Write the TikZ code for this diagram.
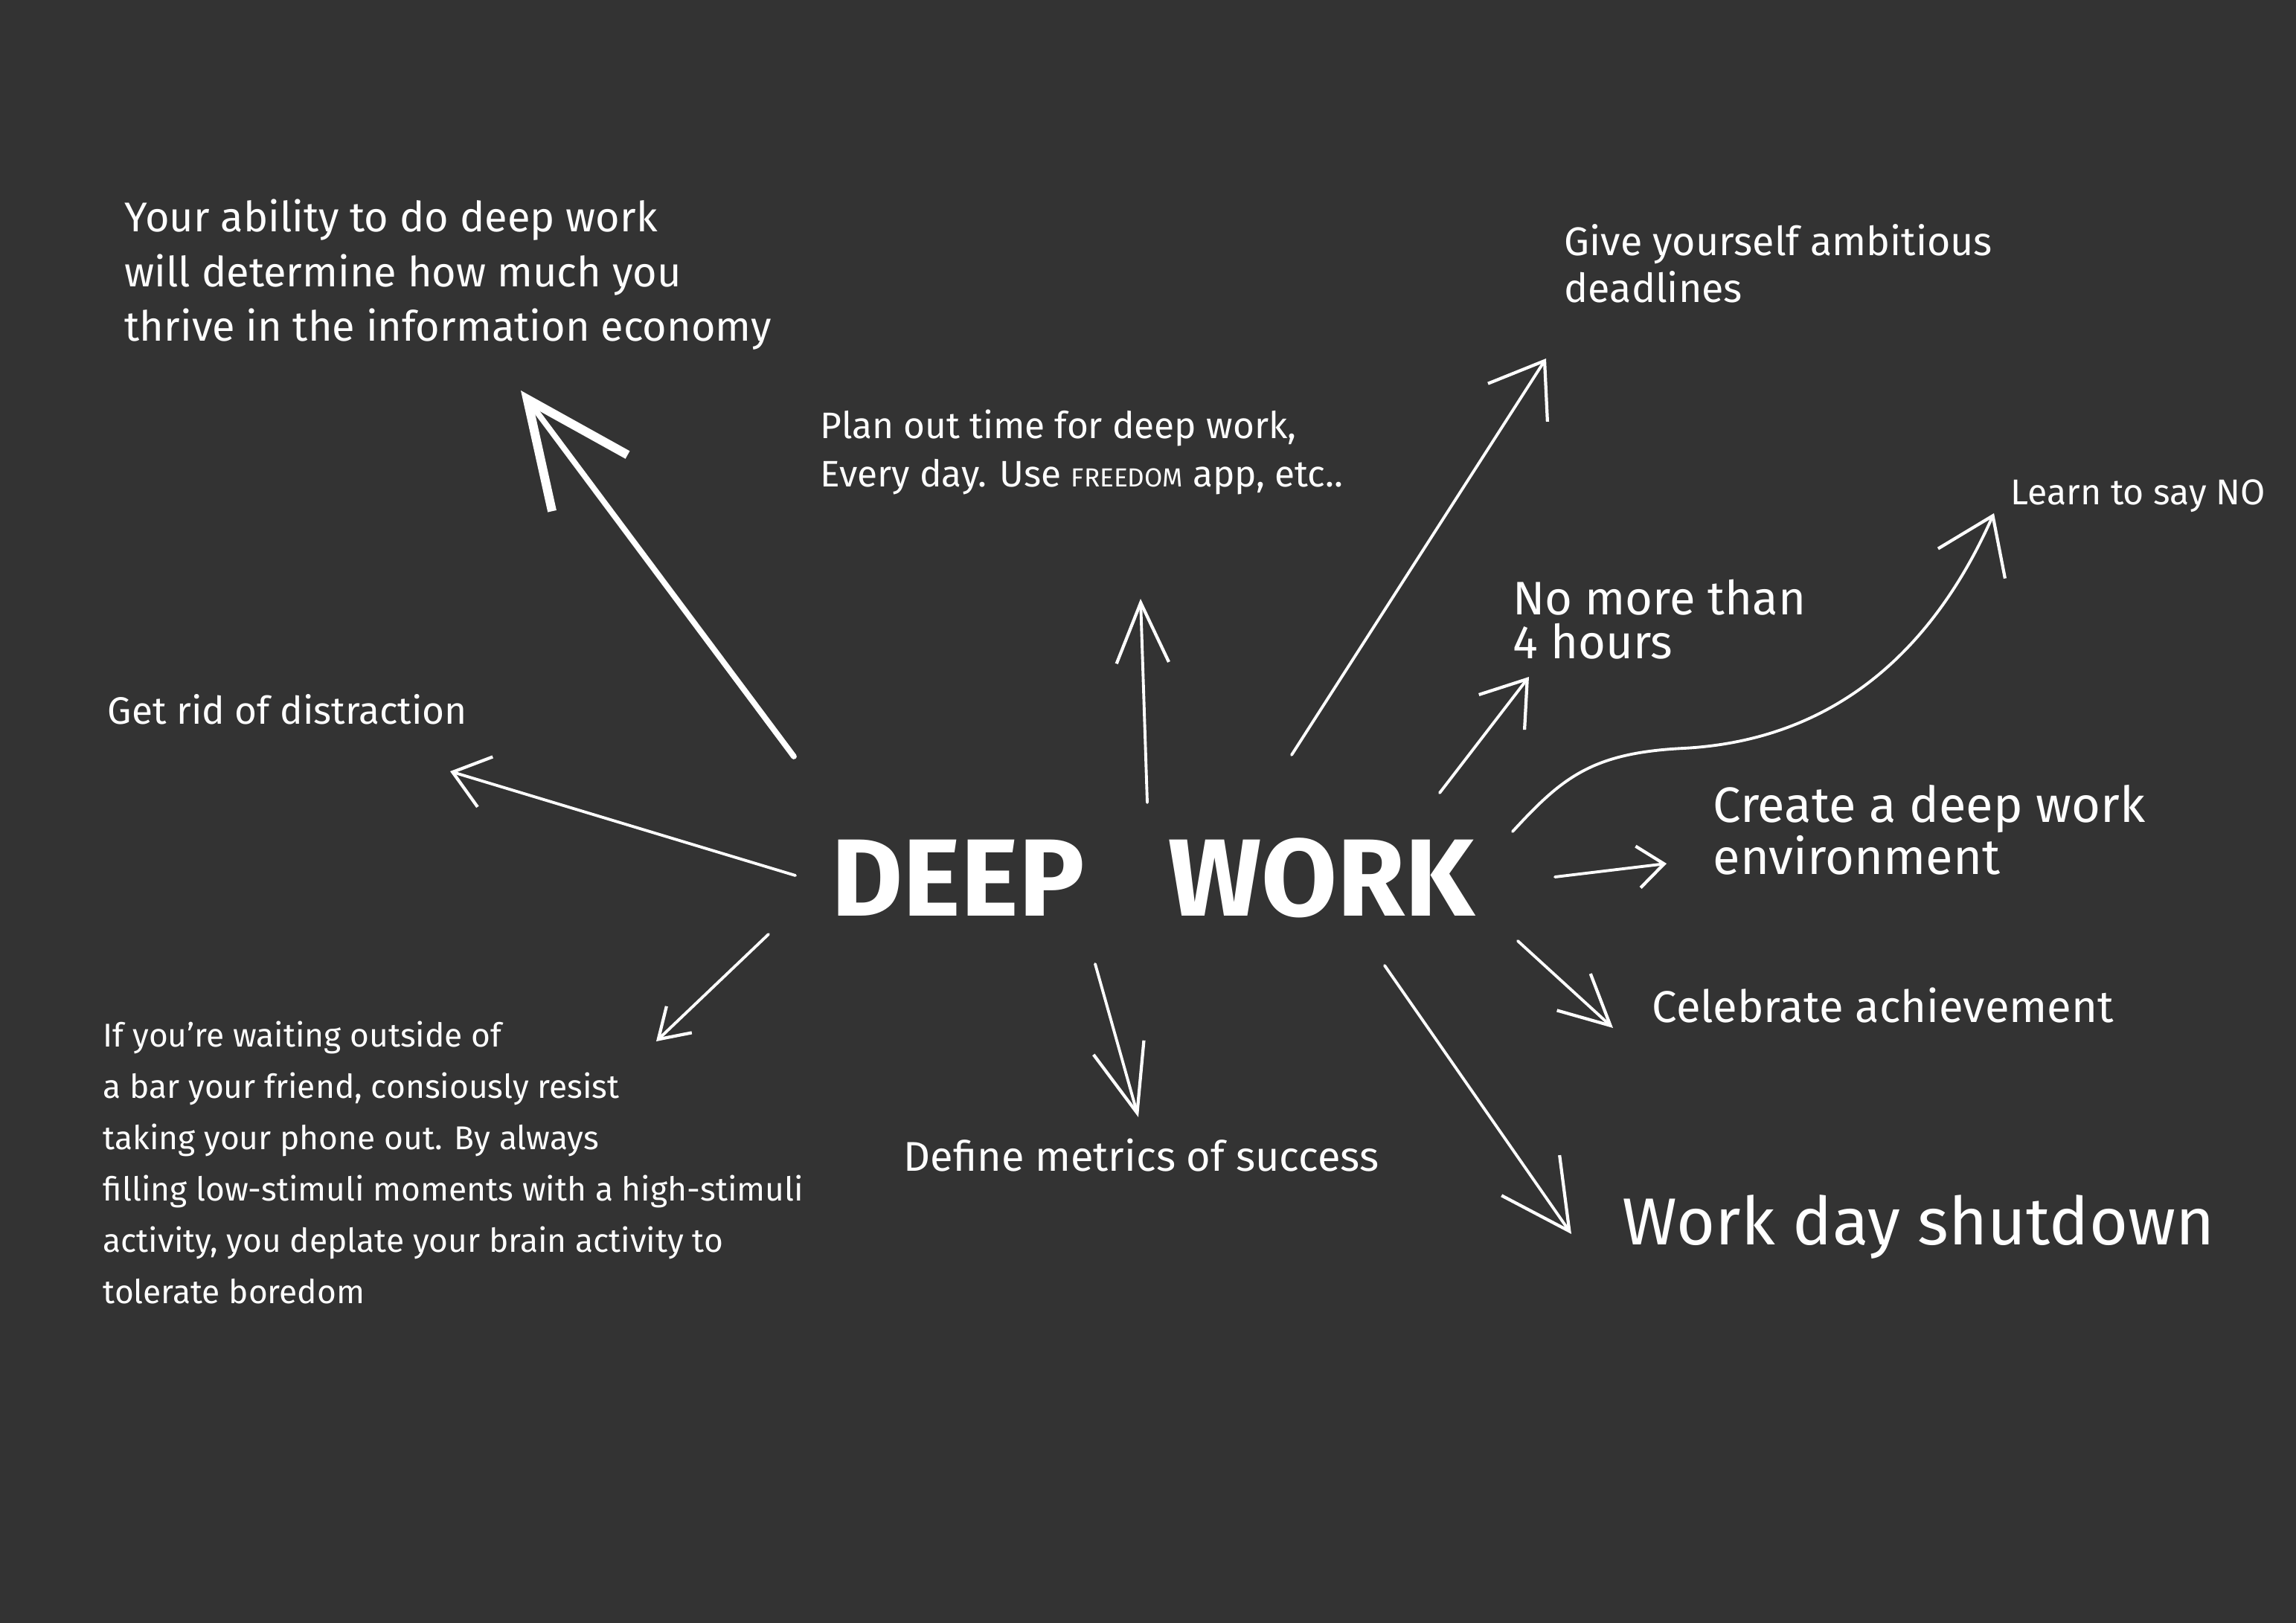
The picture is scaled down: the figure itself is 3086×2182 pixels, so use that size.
\documentclass[tikz,border=0pt]{standalone}
\usepackage{fontspec}
\setmainfont{Fira Sans}
\usetikzlibrary{arrows.meta}

% Custom colors
\newcommand{\coloris}{white}
\newcommand{\colorisB}{black!80}

\tikzset{arrow/.style args={head #1 by #2}{draw=\coloris, line width=1.1pt, line cap=round,
  -{Straight Barb[length=#1, width=#2, line width=1.2pt]}}}
\tikzset{arrowB/.style={draw=\coloris, line width=2.2pt, line cap=round,
  -{Straight Barb[length=40pt, width=36pt, line width=3.4pt]}}}

\begin{document}
\begin{tikzpicture}[
  x=0.01cm, y=-0.01cm,
  every node/.style={text=\coloris, inner sep=0pt},
  note/.style={anchor=base west, align=left},
]
\fill[\colorisB] (0,0) rectangle (3086,2182);

%-------------------------------------------------------------
% Centre
\node[font=\fontsize{42}{46}\selectfont\bfseries] (deep) at (1550,1180) {DEEP\hspace{32pt}WORK};

%-------------------------------------------------------------
% Notes round the centre (placed at the baseline of their last line)
\node[note, font=\fontsize{15.9}{21}\selectfont] (ability) at (167,459)
  {Your ability to do deep work\\will determine how much you\\thrive in the information economy};
\node[note, font=\fontsize{14.1}{18.5}\selectfont] (plan) at (1102,655)
  {Plan out time for deep work,\\Every day. Use {\fontsize{10}{10}\selectfont FREEDOM} app, etc..};
\node[note, font=\fontsize{15.3}{18}\selectfont] (give) at (2102,407)
  {Give yourself ambitious\\deadlines};
\node[note, font=\fontsize{13.7}{16}\selectfont] (learn) at (2702,679) {Learn to say NO};
\node[note, font=\fontsize{18}{16.8}\selectfont] (nomore) at (2033,886) {No more than\\4 hours};
\node[note, font=\fontsize{14.6}{16}\selectfont] (rid) at (144,974) {Get rid of distraction};
\node[note, font=\fontsize{19}{16.8}\selectfont] (create) at (2302,1175)
  {Create a deep work\\environment};
\node[note, font=\fontsize{17}{20}\selectfont] (celebrate) at (2220,1374) {Celebrate achievement};
\node[note, font=\fontsize{15.9}{18}\selectfont] (define) at (1214,1574) {Define metrics of success};
\node[note, font=\fontsize{25.4}{30}\selectfont] (shutdown) at (2180,1673) {Work day shutdown};
\node[note, font=\fontsize{12.6}{19.6}\selectfont] (boredom) at (138,1752)
  {If you're waiting outside of\\a bar your friend, consiously resist\\taking your phone out. By always\\filling low-stimuli moments with a high-stimuli\\activity, you deplate your brain activity to\\tolerate boredom};

%-------------------------------------------------------------
% Arrow ends
\coordinate (s-ability) at (1067,1017);  \coordinate (t-ability) at (700,525);
\coordinate (s-rid) at (1069,1177);      \coordinate (t-rid) at (605,1037);
\coordinate (s-plan) at (1542,1079);     \coordinate (t-plan) at (1533,805);
\coordinate (s-give) at (1736,1015);     \coordinate (t-give) at (2078,482);
\coordinate (s-nomore) at (1935,1066);   \coordinate (t-nomore) at (2055,910);
\coordinate (s-learn) at (2033,1118);    \coordinate (t-learn) at (2680,690);
\coordinate (s-create) at (2090,1179);   \coordinate (t-create) at (2240,1161);
\coordinate (s-celebrate) at (2040,1265);\coordinate (t-celebrate) at (2168,1382);
\coordinate (s-define) at (1472,1296);   \coordinate (t-define) at (1530,1502);
\coordinate (s-shutdown) at (1861,1298); \coordinate (t-shutdown) at (2112,1659);
\coordinate (s-boredom) at (1033,1256);  \coordinate (t-boredom) at (882,1400);

%-------------------------------------------------------------
% Arrows
\draw[arrowB] (s-ability) -- (t-ability);
\draw[arrow=head 13pt by 20pt] (s-rid) -- (t-rid);
\draw[arrow=head 23pt by 20pt] (s-plan) -- (t-plan);
\draw[arrow=head 19pt by 27pt] (s-give) -- (t-give);
\draw[arrow=head 16pt by 22pt] (s-nomore) -- (t-nomore);
\draw[arrow=head 20pt by 28pt] (s-learn) .. controls (2100,1045) and (2140,1012) .. (2263,1006)
  .. controls (2470,995) and (2600,870) .. (t-learn);
\draw[arrow=head 10pt by 16pt] (s-create) -- (t-create);
\draw[arrow=head 19pt by 19pt] (s-celebrate) -- (t-celebrate);
\draw[arrow=head 26pt by 20pt] (s-define) -- (t-define);
\draw[arrow=head 26pt by 27pt] (s-shutdown) -- (t-shutdown);
\draw[arrow=head 11pt by 14pt] (s-boredom) -- (t-boredom);

\end{tikzpicture}
\end{document}
